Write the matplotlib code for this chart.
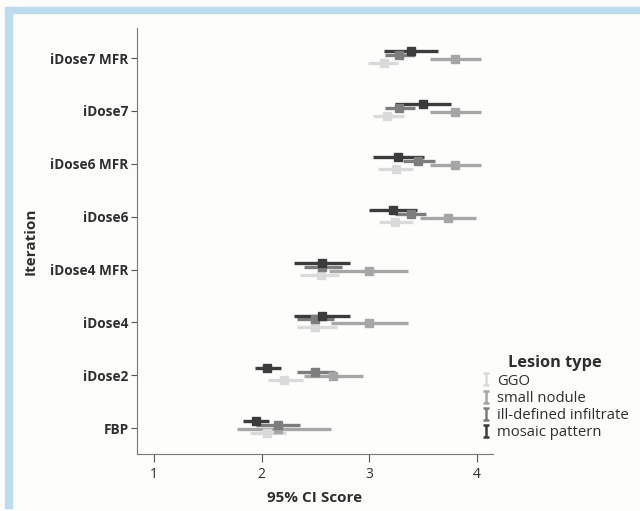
import matplotlib.pyplot as plt
import numpy as np
from matplotlib.lines import Line2D
from matplotlib.path import Path
from matplotlib.patches import Rectangle

plt.rcParams['font.family'] = ['Open Sans', 'DejaVu Sans']

# categories, top to bottom
cats = ["iDose7 MFR", "iDose7", "iDose6 MFR", "iDose6",
        "iDose4 MFR", "iDose4", "iDose2", "FBP"]

ggo_mean = [3.14, 3.16, 3.25, 3.24, 2.55, 2.50, 2.21, 2.05]
ggo_lo = [2.99, 3.03, 3.08, 3.09, 2.36, 2.33, 2.06, 1.89]
ggo_hi = [3.27, 3.32, 3.41, 3.41, 2.72, 2.70, 2.38, 2.23]

nod_mean = [3.80, 3.80, 3.80, 3.73, 3.00, 3.00, 2.66, 2.15]
nod_lo = [3.56, 3.56, 3.56, 3.47, 2.63, 2.64, 2.39, 1.77]
nod_hi = [4.04, 4.04, 4.04, 3.99, 3.36, 3.36, 2.94, 2.64]

ill_mean = [3.28, 3.28, 3.45, 3.39, 2.56, 2.50, 2.50, 2.15]
ill_lo = [3.15, 3.15, 3.31, 3.24, 2.39, 2.33, 2.33, 1.95]
ill_hi = [3.42, 3.42, 3.61, 3.53, 2.75, 2.67, 2.68, 2.36]

mos_mean = [3.39, 3.50, 3.27, 3.22, 2.56, 2.56, 2.05, 1.95]
mos_lo = [3.14, 3.24, 3.03, 3.00, 2.30, 2.30, 1.94, 1.83]
mos_hi = [3.64, 3.76, 3.51, 3.44, 2.82, 2.82, 2.18, 2.07]

series = [
    ("GGO", ggo_mean, ggo_lo, ggo_hi, "#dadada", -0.095),
    ("small nodule", nod_mean, nod_lo, nod_hi, "#a6a6a6", -0.02),
    ("ill-defined infiltrate", ill_mean, ill_lo, ill_hi, "#7d7d7d", 0.055),
    ("mosaic pattern", mos_mean, mos_lo, mos_hi, "#3c3c3c", 0.13),
]

fig = plt.figure(figsize=(6.4, 5.11), dpi=100, facecolor="#fcfdfa")
# light blue frame (top and left bands)
fig.patches.append(Rectangle((5/640, 0.006), 7/640, 1 - 7/511 - 0.006,
                             transform=fig.transFigure, color="#bddced", zorder=0))
fig.patches.append(Rectangle((5/640, 1 - 13/511), 1, 6/511,
                             transform=fig.transFigure, color="#bddced", zorder=0))

ax = fig.add_axes([137/640, 57/511, 356/640, 426/511])
ax.set_facecolor("#fdfefc")

ypos = np.arange(len(cats))[::-1]
for name, m, lo, hi, c, off in series:
    m = np.array(m); lo = np.array(lo); hi = np.array(hi)
    ax.errorbar(m, ypos + off, xerr=[m - lo, hi - m], fmt='s', color=c,
                ecolor=c, elinewidth=2.4, capsize=0, markersize=5.5)

ax.set_xlim(0.842, 4.149)
ax.set_ylim(-0.49, 7.57)
ax.set_xticks([1, 2, 3, 4])
ax.set_yticks(ypos)
ax.set_yticklabels(cats, fontweight='bold', fontsize=9.8, color="#2e2e2e")
ax.tick_params(axis='x', labelsize=10, length=6, color="#555555", labelcolor="#2e2e2e")
ax.tick_params(axis='y', length=4, color="#555555", pad=2)
for s in ["top", "right"]:
    ax.spines[s].set_visible(False)
for s in ["left", "bottom"]:
    ax.spines[s].set_color("#777777")

ax.set_xlabel("95% CI Score", fontweight='bold', fontsize=11, color="#2e2e2e", labelpad=6)
ax.set_ylabel("Iteration", fontweight='bold', fontsize=11, color="#2e2e2e", labelpad=9)

# I-beam legend marker
ibeam = Path([(-0.45, 1), (0.45, 1), (0, 1), (0, -1), (-0.45, -1), (0.45, -1)],
             [Path.MOVETO, Path.LINETO, Path.MOVETO, Path.LINETO, Path.MOVETO, Path.LINETO])
handles = [Line2D([], [], linestyle='none', marker=ibeam, markersize=9,
                  markeredgewidth=1.8, color=c) for _, _, _, _, c, _ in series]
labels = [s[0] for s in series]
leg = fig.legend(handles, labels, loc='upper left', bbox_to_anchor=(470/640, 1 - 345/511),
                 frameon=False, fontsize=10.7, title="Lesion type",
                 handlelength=0.8, handletextpad=0.35, labelspacing=0.15,
                 borderpad=0.2)
leg.get_title().set_fontweight('bold')
leg.get_title().set_fontsize(11.8)
for t in leg.get_texts():
    t.set_color("#2e2e2e")
leg.get_title().set_color("#2e2e2e")

fig.savefig("out.png", dpi=100, facecolor=fig.get_facecolor())
